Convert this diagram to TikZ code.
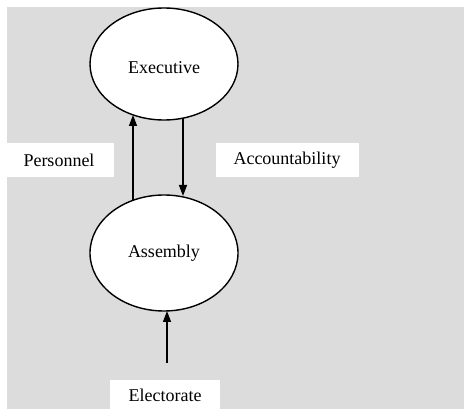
\documentclass[tikz,border=0pt]{standalone}
\usepackage{fontspec}
\setmainfont{Liberation Serif}
\usetikzlibrary{shapes.geometric,arrows.meta}
\definecolor{paper}{RGB}{220,220,220}
\begin{document}
\begin{tikzpicture}[x=1pt,y=-1pt,
  body/.style={ellipse,draw=black,line width=1.4pt,fill=white,
    minimum width=148pt,inner sep=0pt,font=\fontsize{18}{21}\selectfont},
  tag/.style={fill=white,inner sep=0pt,font=\fontsize{18}{21}\selectfont},
  flow/.style={line width=1.4pt,-{Triangle[length=11pt,width=8pt]}}]
  \useasboundingbox (0,0) rectangle (464,409);
  \fill[white] (0,0) rectangle (464,409);
  \fill[paper] (7,7) rectangle (464,409);

  % the two bodies
  \node[body,minimum height=112pt] (exec) at (164,64)
    {\raisebox{-4pt}[\height][\depth]{Executive}};
  \node[body,minimum height=116pt] (asm) at (164,253) {Assembly};

  % label boxes
  \node[tag,minimum width=110pt,minimum height=34pt] (pers) at (59,160) {Personnel};
  \node[tag,minimum width=143pt,minimum height=34pt] (acct) at (287,160) {Accountability};
  \node[tag,minimum width=110pt,minimum height=30pt] (elec) at (165,395) {Electorate};

  % arrow end points on the ellipse borders
  \coordinate (pUp0) at (133,200);
  \coordinate (pUp1) at (133,115);
  \coordinate (aDn0) at (183,118);
  \coordinate (aDn1) at (183,196);
  \coordinate (eUp0) at (167,363);
  \coordinate (eUp1) at (167,311);

  \draw[flow] (pUp0) -- (pUp1);
  \draw[flow] (aDn0) -- (aDn1);
  \draw[flow] (eUp0) -- (eUp1);
\end{tikzpicture}
\end{document}
